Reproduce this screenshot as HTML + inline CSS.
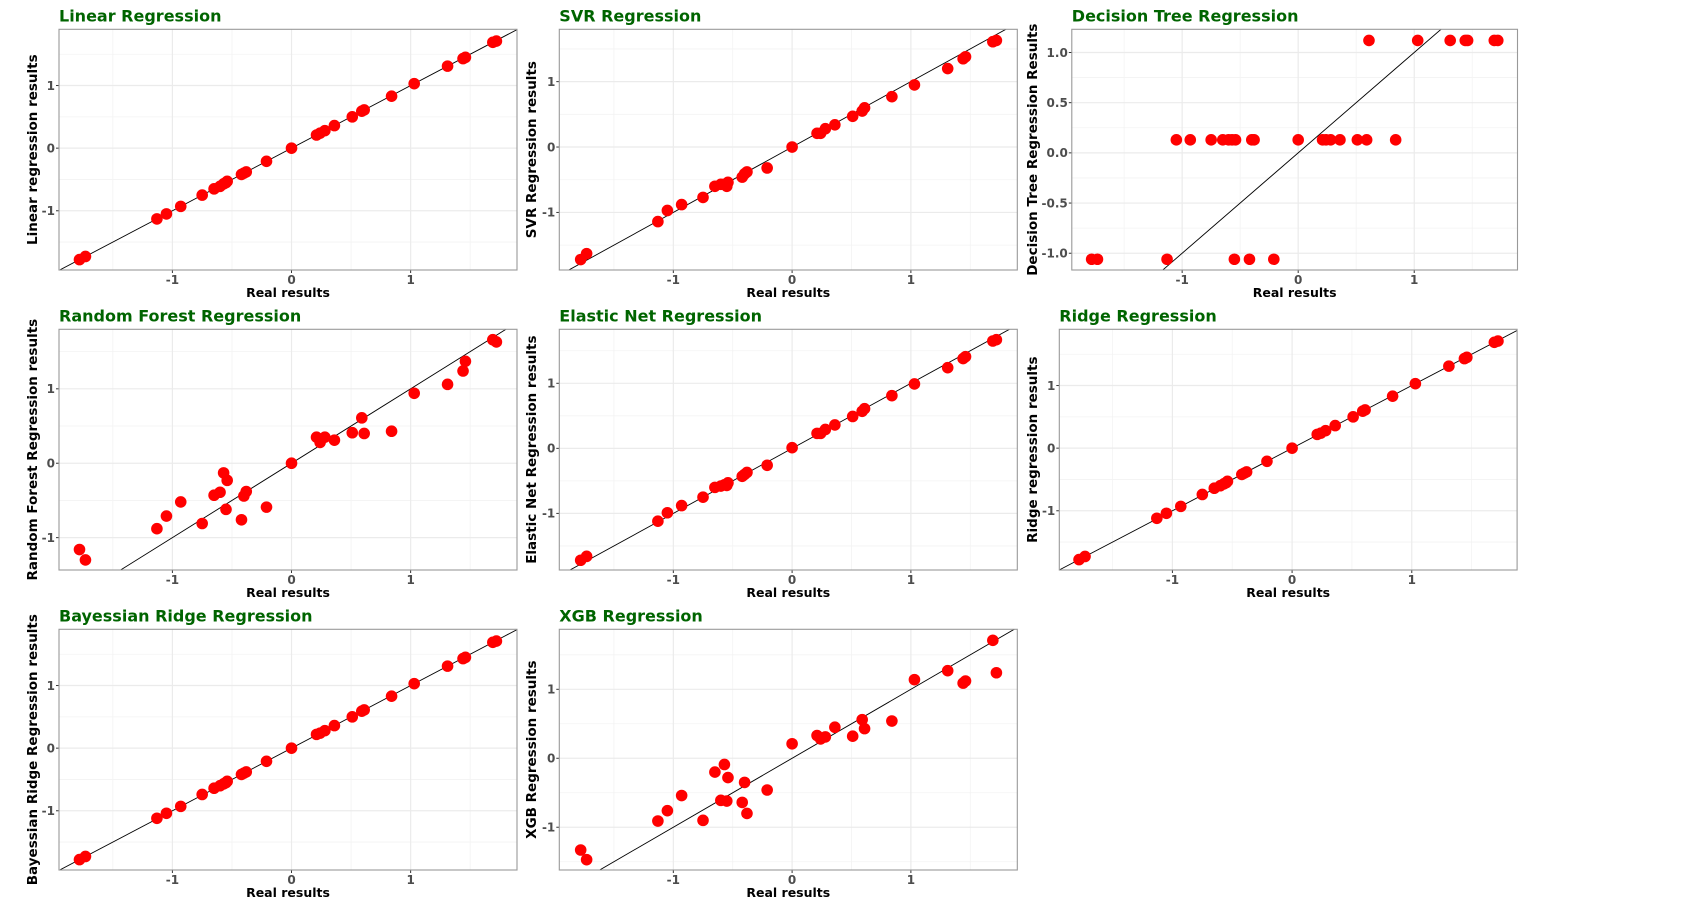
<!DOCTYPE html>
<html><head><meta charset="utf-8"><style>
html,body{margin:0;padding:0;background:#fff;width:1706px;height:907px;overflow:hidden;}
svg{display:block;font-family:"DejaVu Sans","Liberation Sans",sans-serif;}
.title{font-size:16px;font-weight:bold;fill:#006400;}
.tick{font-size:12px;font-weight:bold;fill:#4d4d4d;}
.axt{font-size:13.5px;font-weight:bold;fill:#000;}
.xaxt{font-size:12.5px;font-weight:bold;fill:#000;}
</style></head><body>
<svg id="chart" width="1706" height="907" viewBox="0 0 1706 907" xmlns="http://www.w3.org/2000/svg"></svg>
<script>
const realValues = [-1.78,-1.73,-1.13,-1.05,-0.93,-0.75,-0.65,-0.60,-0.57,-0.55,-0.54,-0.42,-0.40,-0.38,-0.21,0.00,0.21,0.24,0.28,0.36,0.51,0.59,0.61,0.84,1.03,1.31,1.44,1.46,1.69,1.72];
const linearValues = [-1.78,-1.73,-1.13,-1.05,-0.93,-0.75,-0.65,-0.61,-0.57,-0.55,-0.53,-0.42,-0.40,-0.38,-0.21,0.00,0.21,0.24,0.28,0.36,0.50,0.59,0.61,0.83,1.03,1.31,1.43,1.45,1.69,1.71];
const svrValues = [-1.72,-1.63,-1.14,-0.97,-0.88,-0.77,-0.60,-0.57,-0.57,-0.60,-0.54,-0.46,-0.41,-0.38,-0.32,0.00,0.21,0.21,0.28,0.34,0.47,0.55,0.60,0.77,0.95,1.20,1.35,1.38,1.61,1.63];
const dtValues = [-1.06,-1.06,-1.06,0.13,0.13,0.13,0.13,0.13,0.13,-1.06,0.13,-1.06,0.13,0.13,-1.06,0.13,0.13,0.13,0.13,0.13,0.13,0.13,1.12,0.13,1.12,1.12,1.12,1.12,1.12,1.12];
const rfValues = [-1.16,-1.30,-0.88,-0.71,-0.52,-0.81,-0.43,-0.39,-0.13,-0.62,-0.23,-0.76,-0.44,-0.38,-0.59,0.00,0.35,0.28,0.35,0.31,0.41,0.61,0.40,0.43,0.94,1.06,1.24,1.37,1.66,1.63];
const enValues = [-1.72,-1.66,-1.12,-0.99,-0.88,-0.75,-0.60,-0.58,-0.56,-0.57,-0.53,-0.43,-0.40,-0.37,-0.26,0.01,0.23,0.23,0.29,0.36,0.49,0.57,0.61,0.81,0.99,1.24,1.38,1.41,1.65,1.67];
const ridgeValues = [-1.78,-1.73,-1.12,-1.04,-0.93,-0.74,-0.64,-0.60,-0.57,-0.55,-0.53,-0.42,-0.40,-0.38,-0.21,0.00,0.22,0.24,0.28,0.36,0.50,0.59,0.61,0.83,1.03,1.31,1.43,1.45,1.69,1.71];
const bayesValues = [-1.78,-1.73,-1.12,-1.04,-0.93,-0.74,-0.64,-0.60,-0.57,-0.55,-0.53,-0.42,-0.40,-0.38,-0.21,0.00,0.22,0.24,0.28,0.36,0.50,0.59,0.61,0.83,1.03,1.31,1.43,1.45,1.69,1.71];
const xgbValues = [-1.33,-1.47,-0.91,-0.76,-0.54,-0.90,-0.20,-0.61,-0.09,-0.62,-0.28,-0.64,-0.35,-0.80,-0.46,0.21,0.33,0.28,0.31,0.45,0.32,0.56,0.43,0.54,1.14,1.27,1.09,1.12,1.71,1.24];
const intTicks = [-1,0,1];
const intTickLabels = ["-1","0","1"];
const dtTicks = [-1,-0.5,0,0.5,1];
const dtTickLabels = ["-1.0","-0.5","0.0","0.5","1.0"];

const panels = [
 {name:'linear',title:'Linear Regression',ylab:'Linear regression results',vals:linearValues,L:59,R:517,T:29.3,B:270,xr:[-1.952,1.893],yr:[-1.946,1.898],yl:32,yt:intTicks,ytl:intTickLabels},
 {name:'svr',title:'SVR Regression',ylab:'SVR Regression results',vals:svrValues,L:559.3,R:1017.3,T:29.3,B:270,xr:[-1.96,1.896],yr:[-1.88,1.80],yl:531,yt:intTicks,ytl:intTickLabels},
 {name:'decision-tree',title:'Decision Tree Regression',ylab:'Decision Tree Regression Results',vals:dtValues,L:1071.8,R:1517.5,T:29.3,B:270,xr:[-1.951,1.890],yr:[-1.167,1.231],yl:1032,yt:dtTicks,ytl:dtTickLabels},
 {name:'random-forest',title:'Random Forest Regression',ylab:'Random Forest Regression results',vals:rfValues,L:59,R:517,T:329.3,B:570,xr:[-1.952,1.893],yr:[-1.435,1.80],yl:32,yt:intTicks,ytl:intTickLabels},
 {name:'elastic-net',title:'Elastic Net Regression',ylab:'Elastic Net Regression results',vals:enValues,L:559.3,R:1017.3,T:329.3,B:570,xr:[-1.96,1.896],yr:[-1.87,1.83],yl:531,yt:intTicks,ytl:intTickLabels},
 {name:'ridge',title:'Ridge Regression',ylab:'Ridge regression results',vals:ridgeValues,L:1059.3,R:1517.1,T:329.3,B:570,xr:[-1.945,1.88],yr:[-1.946,1.898],yl:1032,yt:intTicks,ytl:intTickLabels},
 {name:'bayesian-ridge',title:'Bayessian Ridge Regression',ylab:'Bayessian Ridge Regression results',vals:bayesValues,L:59,R:517,T:629.3,B:870,xr:[-1.952,1.893],yr:[-1.946,1.898],yl:32,yt:intTicks,ytl:intTickLabels},
 {name:'xgb',title:'XGB Regression',ylab:'XGB Regression results',vals:xgbValues,L:559.3,R:1017.3,T:629.3,B:870,xr:[-1.96,1.896],yr:[-1.62,1.87],yl:531,yt:intTicks,ytl:intTickLabels}
];

const NS='http://www.w3.org/2000/svg';
const svg=document.getElementById('chart');
function mk(tag,attrs,parent){const e=document.createElementNS(NS,tag);for(const k in attrs)e.setAttribute(k,attrs[k]);parent.appendChild(e);return e;}

panels.forEach(p=>{
  const g=mk('g',{},svg);
  
  
  const sx=v=>p.L+(v-p.xr[0])/(p.xr[1]-p.xr[0])*(p.R-p.L);
  const sy=v=>p.B-(v-p.yr[0])/(p.yr[1]-p.yr[0])*(p.B-p.T);
  const bg=mk('rect',{x:p.L,y:p.T,width:p.R-p.L,height:p.B-p.T,fill:'#fff'},g);
  
  
  const xMinor=[-1.5,-0.5,0.5,1.5];
  const yMinor=p.yt.length===5?[-0.75,-0.25,0.25,0.75]:[-1.5,-0.5,0.5,1.5];
  xMinor.forEach(v=>{if(v>p.xr[0]&&v<p.xr[1]){const l=mk('line',{x1:sx(v),x2:sx(v),y1:p.T,y2:p.B,stroke:'#f3f3f3','stroke-width':0.8},g);}});
  yMinor.forEach(v=>{if(v>p.yr[0]&&v<p.yr[1]){const l=mk('line',{x1:p.L,x2:p.R,y1:sy(v),y2:sy(v),stroke:'#f3f3f3','stroke-width':0.8},g);}});
  intTicks.forEach((v,i)=>{
    const l=mk('line',{x1:sx(v),x2:sx(v),y1:p.T,y2:p.B,stroke:'#ebebeb','stroke-width':1.2},g);
    
    
    const tm=mk('line',{x1:sx(v),x2:sx(v),y1:p.B,y2:p.B+3,stroke:'#333','stroke-width':1},g);
    
    
    const t=mk('text',{x:sx(v),y:p.B+14,'text-anchor':'middle',class:'tick'},g);
    t.textContent=intTickLabels[i];
    
    
  });
  p.yt.forEach((v,i)=>{
    const l=mk('line',{x1:p.L,x2:p.R,y1:sy(v),y2:sy(v),stroke:'#ebebeb','stroke-width':1.2},g);
    
    
    const tm=mk('line',{x1:p.L-3,x2:p.L,y1:sy(v),y2:sy(v),stroke:'#333','stroke-width':1},g);
    
    
    const t=mk('text',{x:p.L-4,y:sy(v)+4.3,'text-anchor':'end',class:'tick'},g);
    t.textContent=p.ytl[i];
    
    
  });
  const cid='clip-'+p.name;
  const cp=mk('clipPath',{id:cid},g);
  mk('rect',{x:p.L,y:p.T,width:p.R-p.L,height:p.B-p.T},cp);
  const lo=Math.min(p.xr[0],p.yr[0])-1, hi=Math.max(p.xr[1],p.yr[1])+1;
  const idl=mk('line',{x1:sx(lo),y1:sy(lo),x2:sx(hi),y2:sy(hi),stroke:'#000','stroke-width':0.9,'clip-path':'url(#'+cid+')'},g);
  
  
  const pg=mk('g',{'clip-path':'url(#'+cid+')'},g);
  realValues.forEach((x,i)=>{
    const c=mk('circle',{cx:sx(x),cy:sy(p.vals[i]),r:5.8,fill:'#ff0000'},pg);
    
    
  });
  const br=mk('rect',{x:p.L,y:p.T,width:p.R-p.L,height:p.B-p.T,fill:'none',stroke:'#999','stroke-width':1.1},g);
  
  
  const tt=mk('text',{x:p.L,y:p.T-8,class:'title'},g);
  tt.textContent=p.title;
  
  
  const xt=mk('text',{x:(p.L+p.R)/2,y:p.B+27,'text-anchor':'middle',class:'xaxt'},g);
  xt.textContent='Real results';
  
  
  const cy=(p.T+p.B)/2;
  const yt=mk('text',{x:p.yl+5,y:cy,'text-anchor':'middle',class:'axt',transform:'rotate(-90 '+(p.yl+5)+' '+cy+')'},g);
  yt.textContent=p.ylab;
  
  
});
</script>
</body></html>
